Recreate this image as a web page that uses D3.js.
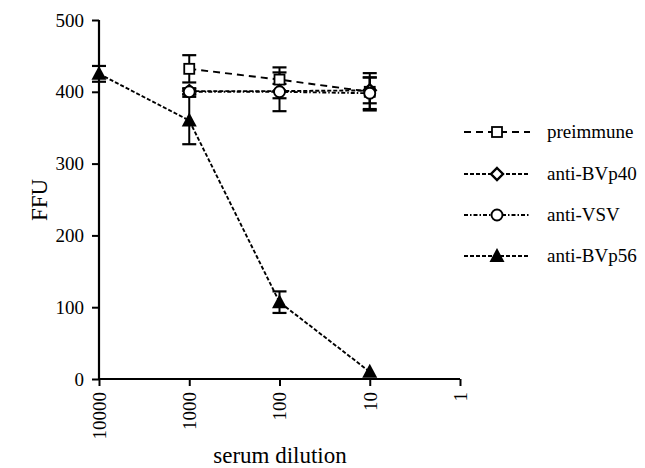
<!DOCTYPE html>
<html><head><meta charset="utf-8">
<script src="https://cdn.jsdelivr.net/npm/d3@7"></script>
<style>body{margin:0;background:#fff}svg{display:block}text{font-family:"Liberation Serif","Times New Roman",serif}</style>
</head><body>
<script>
const xTicks = [10000, 1000, 100, 10, 1];
const yTicks = [0, 100, 200, 300, 400, 500];
const seriesNames = ["preimmune", "anti-BVp40", "anti-VSV", "anti-BVp56"];
const preimmuneX = [1000, 100, 10];
const preimmuneY = [432, 417, 400];
const preimmuneErr = [19, 17, 26];
const bvp40X = [1000, 100, 10];
const bvp40Y = [401, 401, 402];
const bvp40Err = [4, 10, 18];
const vsvX = [1000, 100, 10];
const vsvY = [400, 400, 398];
const vsvErr = [4, 27, 22];
const bvp56X = [10000, 1000, 100, 10];
const bvp56Y = [425, 360, 107, 10];
const bvp56Err = [11, 33, 15, 2];

const W = 645, H = 468;
const svg = d3.select("body").append("svg").attr("width", W).attr("height", H);
const x = d3.scaleLog().domain([10000, 1]).range([99, 460]);
const y = d3.scaleLinear().domain([0, 500]).range([379, 20]);
const font = '"Liberation Serif", "Times New Roman", serif';

// axes
const ya = svg.append("g").attr("transform", "translate(99,0)")
  .call(d3.axisLeft(y).tickValues(yTicks).tickSize(7).tickPadding(8).tickFormat(d3.format("d")));
ya.attr("font-family", null).attr("font-size", null);
ya.selectAll("text").style("font-family", font).style("font-size", "19px").attr("fill", "#000");
const xa = svg.append("g").attr("transform", "translate(0,379)")
  .call(d3.axisBottom(x).tickValues(xTicks).tickSize(7).tickFormat(d => String(d)));
xa.attr("font-family", null).attr("font-size", null);
xa.selectAll("text").style("font-family", font).style("font-size", "19px").attr("fill", "#000")
  .attr("transform", "rotate(-90)").attr("text-anchor", "end").attr("dx", "-13").attr("dy", "0.33em").attr("y", 0).attr("x", 0);
[ya, xa].forEach(a => { a.selectAll("path,line").attr("stroke", "#000").attr("stroke-width", 2); a.select(".domain").attr("stroke-width", 2.2); });
xa.select(".domain").attr("d", "M99,0H460");
ya.select(".domain").attr("d", "M0,20V379");

svg.append("text").attr("transform", "translate(47,200) rotate(-90)").attr("text-anchor", "middle")
  .style("font-family", font).style("font-size", "23px").text("FFU");
svg.append("text").attr("x", 280).attr("y", 463).attr("text-anchor", "middle")
  .style("font-family", font).style("font-size", "23px").text("serum dilution");

const series = [
  {name: seriesNames[0], xs: preimmuneX, ys: preimmuneY, es: preimmuneErr, dash: "7,5", shape: "square"},
  {name: seriesNames[1], xs: bvp40X, ys: bvp40Y, es: bvp40Err, dash: "4,2", shape: "diamond"},
  {name: seriesNames[2], xs: vsvX, ys: vsvY, es: vsvErr, dash: "4,2,1.5,2", shape: "circle"},
  {name: seriesNames[3], xs: bvp56X, ys: bvp56Y, es: bvp56Err, dash: "4,2", shape: "triangle"}
];

function marker(g, shape, cx, cy) {
  if (shape === "square") g.append("rect").attr("x", cx-5).attr("y", cy-5).attr("width", 10).attr("height", 10).attr("fill", "#fff").attr("stroke", "#000").attr("stroke-width", 1.8);
  else if (shape === "diamond") g.append("path").attr("d", `M${cx},${cy-6}L${cx+6},${cy}L${cx},${cy+6}L${cx-6},${cy}Z`).attr("fill", "#fff").attr("stroke", "#000").attr("stroke-width", 2.4);
  else if (shape === "circle") g.append("circle").attr("cx", cx).attr("cy", cy).attr("r", 5.5).attr("fill", "#fff").attr("stroke", "#000").attr("stroke-width", 1.9);
  else g.append("path").attr("d", `M${cx},${cy-8}L${cx+7.5},${cy+6}L${cx-7.5},${cy+6}Z`).attr("fill", "#000");
}

const plot = svg.append("g");
series.forEach(s => {
  const pts = s.xs.map((v, i) => [x(v), y(s.ys[i]), s.es[i]]);
  plot.append("path").attr("d", d3.line()(pts.map(p => [p[0], p[1]]))).attr("fill", "none")
    .attr("stroke", "#000").attr("stroke-width", 1.9).attr("stroke-dasharray", s.dash);
  pts.forEach(p => {
    if (p[2] > 3) {
      const t = p[1] - p[2] * 0.718, b = p[1] + p[2] * 0.718;
      plot.append("line").attr("x1", p[0]).attr("x2", p[0]).attr("y1", t).attr("y2", b).attr("stroke", "#000").attr("stroke-width", 2);
      [t, b].forEach(yy => plot.append("line").attr("x1", p[0]-7).attr("x2", p[0]+7).attr("y1", yy).attr("y2", yy).attr("stroke", "#000").attr("stroke-width", 2.2));
    }
  });
});
series.forEach(s => {
  s.xs.forEach((v, i) => marker(plot, s.shape, x(v), y(s.ys[i])));
});

// legend
const leg = svg.append("g");
const legY = [132, 174, 215, 256];
series.forEach((s, i) => {
  const yy = legY[i];
  leg.append("line").attr("x1", 464).attr("x2", 530).attr("y1", yy).attr("y2", yy).attr("stroke", "#000")
    .attr("stroke-width", 1.9).attr("stroke-dasharray", s.dash);
  marker(leg, s.shape, 497, yy);
  leg.append("text").attr("x", 547).attr("y", yy + 6).style("font-family", font).style("font-size", "19px").text(s.name);
});
</script>
</body></html>
